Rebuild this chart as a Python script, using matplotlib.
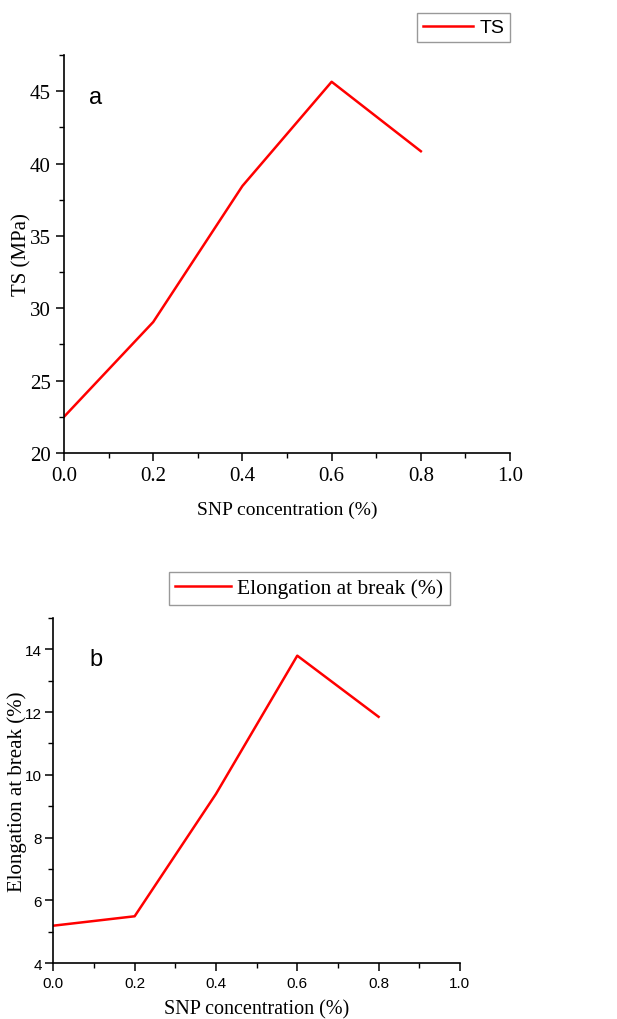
import matplotlib
matplotlib.use("Agg")
import matplotlib.pyplot as plt
from matplotlib.ticker import MultipleLocator

# data
snp = [0.0, 0.2, 0.4, 0.6, 0.8]
ts = [22.5, 29.05, 38.45, 45.65, 40.85]
elong = [5.19, 5.49, 9.39, 13.8, 11.85]

serif = "Liberation Serif"
sans = "Liberation Sans"

fig = plt.figure(figsize=(6.17, 10.20), dpi=100)

# ---- panel a
ax = fig.add_axes([0.1037, 0.5549, 0.723, 0.3902])
ax.plot(snp, ts, color="red", lw=1.8, label="TS")
ax.set_xlim(0, 1.0)
ax.set_ylim(20, 47.5)
ax.xaxis.set_major_locator(MultipleLocator(0.2))
ax.xaxis.set_minor_locator(MultipleLocator(0.1))
ax.yaxis.set_major_locator(MultipleLocator(5))
ax.yaxis.set_minor_locator(MultipleLocator(2.5))
ax.set_xticks([0.0, 0.2, 0.4, 0.6, 0.8, 1.0])
ax.set_xticklabels(["0.0", "0.2", "0.4", "0.6", "0.8", "1.0"])
for lab in ax.get_xticklabels() + ax.get_yticklabels():
    lab.set_fontfamily(serif)
    lab.set_fontsize(15)
ax.set_xlabel("SNP concentration (%)", family=serif, fontsize=14, va="center")
ax.set_ylabel("TS (MPa)", family=serif, fontsize=15, va="center")
ax.xaxis.set_label_coords(0.5, -0.141)
ax.yaxis.set_label_coords(-0.095, 0.5)
ax.text(0.07, 0.894, "a", transform=ax.transAxes, family=sans, fontsize=17,
        ha="center", va="center")
leg = ax.legend(loc="upper right", bbox_to_anchor=(510 / 617, 1 - 14 / 1020),
                bbox_transform=fig.transFigure, borderaxespad=0, fancybox=False,
                edgecolor="#808080", prop={"family": sans, "size": 14},
                handlelength=2.6, handletextpad=0.3, borderpad=0.3)
leg.get_frame().set_linewidth(1.0)

# ---- panel b
bx = fig.add_axes([0.0864, 0.0549, 0.659, 0.3382])
bx.plot(snp, elong, color="red", lw=1.8, label="Elongation at break (%)")
bx.set_xlim(0, 1.0)
bx.set_ylim(4, 15)
bx.xaxis.set_major_locator(MultipleLocator(0.2))
bx.xaxis.set_minor_locator(MultipleLocator(0.1))
bx.yaxis.set_major_locator(MultipleLocator(2))
bx.yaxis.set_minor_locator(MultipleLocator(1))
bx.set_xticks([0.0, 0.2, 0.4, 0.6, 0.8, 1.0])
bx.set_xticklabels(["0.0", "0.2", "0.4", "0.6", "0.8", "1.0"])
for lab in bx.get_xticklabels() + bx.get_yticklabels():
    lab.set_fontfamily(sans)
    lab.set_fontsize(11)
bx.set_xlabel("SNP concentration (%)", family=serif, fontsize=14.5, va="center")
bx.set_ylabel("Elongation at break (%)", family=serif, fontsize=15, va="center")
bx.xaxis.set_label_coords(0.5, -0.133)
bx.yaxis.set_label_coords(-0.09, 0.5)
bx.text(0.105, 0.881, "b", transform=bx.transAxes, family=sans, fontsize=17,
        ha="center", va="center")
leg = bx.legend(loc="upper right", bbox_to_anchor=(450 / 617, 1 - 572.7 / 1020),
                bbox_transform=fig.transFigure, borderaxespad=0, fancybox=False,
                edgecolor="#808080", prop={"family": serif, "size": 15.5},
                handlelength=2.6, handletextpad=0.3, borderpad=0.3)
leg.get_frame().set_linewidth(1.0)

for a in (ax, bx):
    a.spines["top"].set_visible(False)
    a.spines["right"].set_visible(False)
    a.spines["left"].set_linewidth(1.2)
    a.spines["bottom"].set_linewidth(1.2)
    a.tick_params(which="major", direction="out", length=6, width=1.1)
    a.tick_params(which="minor", direction="out", length=3.5, width=1.0)
bx.tick_params(axis="y", which="major", pad=2)

fig.savefig("out.png", dpi=100)
